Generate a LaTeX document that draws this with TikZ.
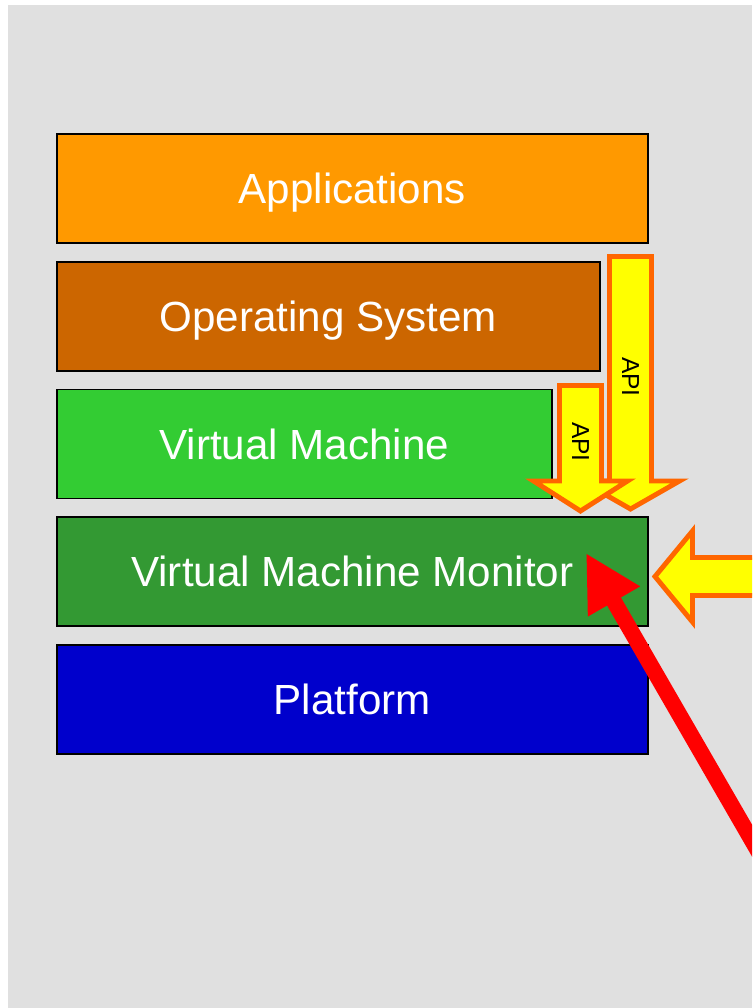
\documentclass[tikz,border=0pt]{standalone}
\usepackage{fontspec}
\setmainfont{Liberation Sans}
\usetikzlibrary{positioning, arrows.meta, calc}

\definecolor{bggrey}{HTML}{E0E0E0}
\definecolor{apporange}{HTML}{FF9900}
\definecolor{osbrown}{HTML}{CC6600}
\definecolor{vmgreen}{HTML}{33CC33}
\definecolor{vmmgreen}{HTML}{339933}
\definecolor{platblue}{HTML}{0000CC}
\definecolor{apiyellow}{HTML}{FFFF00}
\definecolor{apiorange}{HTML}{FF6600}
\definecolor{hitred}{HTML}{FF0000}

\begin{document}
\begin{tikzpicture}[
    x=0.02cm, y=-0.02cm,
    layer/.style={draw, line width=1pt, minimum height=2.18cm, minimum width=11.82cm, anchor=west, text=white, text height=17.2pt, text depth=0pt, font=\fontsize{24pt}{28pt}\selectfont},
    blockarrow/.style={draw=apiorange, fill=apiyellow, line width=2.8pt, miter limit=10},
    apilabel/.style={rotate=-90, font=\fontsize{14pt}{16pt}\selectfont, inner sep=0pt},
    hitarrow/.style={draw=hitred, line width=0.32cm, -{Triangle[length=1.12cm, width=1.12cm]}}
]

\useasboundingbox (0,0) rectangle (752,1008);
\clip (0,0) rectangle (752,1008);
\fill[bggrey] (8,5) rectangle (752,1008);

% Layer stack
\node[layer, fill=apporange] (apps) at (56,188.5) {Applications};
\node[layer, fill=osbrown, minimum width=10.86cm, below=3.4mm of apps.south west, anchor=north west] (os) {Operating System};
\node[layer, fill=vmgreen, minimum width=9.9cm, below=3.4mm of os.south west, anchor=north west] (vm) {Virtual Machine};
\node[layer, fill=vmmgreen, below=3.4mm of vm.south west, anchor=north west] (vmm) {Virtual Machine Monitor};
\node[layer, fill=platblue, below=3.4mm of vmm.south west, anchor=north west] (plat) {Platform};

% API arrows
\draw[blockarrow] (609.5,256.5) -- (651.5,256.5) -- (651.5,481) -- (679.5,481)
    -- (630.5,509) -- (581.5,481) -- (609.5,481) -- cycle;
\node[apilabel] (apilong) at (630.5,377) {API};

\draw[blockarrow] (559.5,385.5) -- (601.5,385.5) -- (601.5,481) -- (627.5,481)
    -- (580.5,511) -- (533.5,481) -- (559.5,481) -- cycle;
\node[apilabel] (apishort) at (580.5,442) {API};

% incoming arrow from the right
\draw[blockarrow] (780,557.5) -- (692.5,557.5) -- (692.5,531) -- (655,576.5)
    -- (692.5,622) -- (692.5,595.5) -- (780,595.5) -- cycle;

% red pointer
\coordinate (redtail) at (836,986);
\coordinate (redtip) at (586,553);
\draw[hitarrow] (redtail) -- (redtip);

\end{tikzpicture}
\end{document}
